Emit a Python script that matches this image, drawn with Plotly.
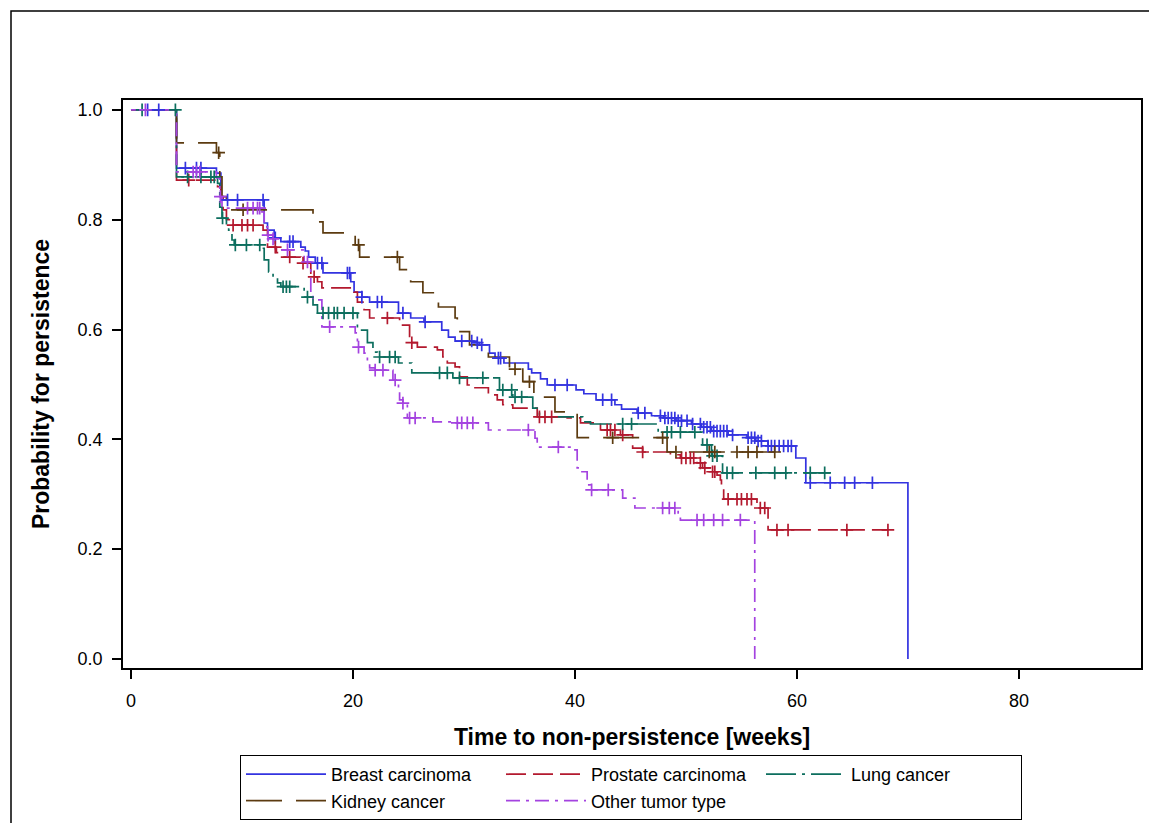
import numpy as np
import plotly.graph_objects as go

# ---------------- data ----------------
groups = ["Breast carcinoma", "Prostate carcinoma", "Lung cancer", "Kidney cancer", "Other tumor type"]

breast_t = [0, 4.1, 7.7, 8.1, 12.0, 12.3, 12.9, 13.5, 15.3, 15.7, 16.0, 16.6, 17.3, 19.8, 20.1, 20.8,
            21.5, 24.1, 25.2, 26.4, 28.0, 28.6, 29.2, 30.9, 31.4, 32.3, 32.8, 33.6, 35.8, 36.1, 36.9, 37.5,
            40.1, 40.8, 41.9, 43.6, 44.2, 45.6, 46.9, 48.0, 49.1, 50.5, 51.4, 52.3, 53.8, 55.5, 56.3, 57.4,
            59.9, 60.8, 70.0]
breast_s = [1.0, 0.894, 0.885, 0.836, 0.794, 0.781, 0.767, 0.760, 0.750, 0.743, 0.732, 0.721, 0.703, 0.687, 0.668, 0.659,
            0.650, 0.630, 0.621, 0.614, 0.599, 0.586, 0.579, 0.576, 0.572, 0.557, 0.548, 0.539, 0.528, 0.521, 0.510, 0.499,
            0.490, 0.483, 0.472, 0.463, 0.455, 0.448, 0.443, 0.439, 0.434, 0.428, 0.422, 0.415, 0.408, 0.403, 0.397, 0.388,
            0.366, 0.321, 0.0]
breast_cens = [1.5, 2.5, 4.9, 5.9, 6.3, 8.7, 9.6, 11.9, 13.0, 14.3, 14.6, 16.8, 17.2, 19.5, 19.7, 20.8, 22.2, 22.6,
               24.5, 26.5, 29.8, 30.7, 31.2, 31.6, 33.1, 33.3, 38.2, 39.3, 42.5, 43.3, 45.7, 46.3, 47.7, 48.1, 48.4,
               48.7, 49.0, 49.3, 49.6, 50.1, 50.6, 51.3, 51.6, 51.9, 52.2, 52.5, 52.8, 53.1, 53.4, 53.7, 54.2, 55.6,
               55.9, 56.2, 56.5, 56.8, 57.4, 57.7, 58.0, 58.4, 58.8, 59.2, 59.5, 61.2, 63.0, 64.3, 65.2, 66.8]

prostate_t = [0, 4.1, 7.8, 8.1, 8.3, 8.6, 9.1, 11.9, 12.3, 13.1, 13.4, 15.3, 16.2, 16.8, 17.2, 20.1, 20.4, 21.0,
              21.5, 24.2, 25.1, 25.8, 27.6, 28.1, 28.5, 29.2, 29.6, 30.3, 30.8, 32.2, 33.0, 33.5, 34.4, 36.6, 39.3,
              40.5, 42.3, 44.1, 45.2, 46.1, 48.6, 49.5, 51.0, 51.5, 52.2, 52.8, 53.1, 53.2, 53.4, 56.4, 57.4, 68.2]
prostate_s = [1.0, 0.872, 0.860, 0.842, 0.818, 0.800, 0.790, 0.781, 0.750, 0.740, 0.732, 0.721, 0.696, 0.687, 0.676,
              0.668, 0.650, 0.636, 0.621, 0.608, 0.576, 0.568, 0.563, 0.550, 0.539, 0.532, 0.514, 0.499, 0.494, 0.481,
              0.472, 0.463, 0.457, 0.441, 0.439, 0.430, 0.417, 0.408, 0.384, 0.377, 0.372, 0.366, 0.357, 0.348, 0.341,
              0.335, 0.326, 0.311, 0.291, 0.275, 0.235, 0.235]
prostate_cens = [5.2, 9.2, 10.0, 10.5, 11.0, 13.0, 14.3, 15.5, 16.5, 23.1, 25.3, 36.8, 37.3, 37.9, 42.9, 43.2, 43.6,
                 44.3, 46.1, 49.6, 50.0, 50.4, 50.7, 51.3, 51.7, 52.4, 52.6, 53.8, 54.6, 55.0, 55.5, 55.9, 56.7, 57.1,
                 58.2, 59.2, 64.5, 68.2]

lung_t = [0, 4.1, 7.8, 8.0, 8.2, 8.6, 8.8, 9.1, 9.3, 11.8, 12.0, 12.4, 12.8, 13.2, 13.5, 15.6, 16.4, 16.8, 20.4,
          21.3, 21.8, 22.2, 24.1, 25.3, 29.0, 33.2, 34.4, 36.2, 36.8, 40.7, 41.4, 47.5, 51.5, 52.3, 53.3, 63.0]
lung_s = [1.0, 0.878, 0.866, 0.823, 0.803, 0.790, 0.781, 0.763, 0.754, 0.748, 0.727, 0.705, 0.695, 0.685, 0.678,
          0.659, 0.645, 0.630, 0.599, 0.576, 0.559, 0.550, 0.539, 0.521, 0.512, 0.490, 0.477, 0.457, 0.441, 0.432,
          0.428, 0.413, 0.390, 0.370, 0.339, 0.339]
lung_cens = [1.0, 4.0, 5.1, 6.3, 7.2, 7.5, 8.25, 9.4, 10.4, 11.6, 13.7, 14.0, 14.3, 15.9, 17.3, 17.8, 18.3, 18.6,
             19.2, 20.0, 22.4, 23.3, 23.8, 27.8, 28.5, 29.6, 31.7, 33.5, 34.3, 34.6, 35.2, 44.3, 45.1, 48.3, 48.7,
             49.5, 50.8, 51.9, 52.4, 52.8, 53.7, 54.2, 56.3, 58.0, 59.0, 61.2, 62.5]

kidney_t = [0, 4.1, 7.7, 8.0, 8.2, 8.6, 16.4, 17.3, 20.2, 20.6, 24.2, 25.2, 26.3, 27.7, 29.2, 29.4, 30.5, 32.2,
            34.1, 35.3, 36.3, 38.2, 40.2, 48.3, 58.5]
kidney_s = [1.0, 0.940, 0.922, 0.878, 0.842, 0.818, 0.796, 0.776, 0.754, 0.732, 0.709, 0.687, 0.667, 0.641, 0.621,
            0.596, 0.572, 0.550, 0.528, 0.505, 0.477, 0.450, 0.403, 0.377, 0.377]
kidney_cens = [7.9, 10.1, 20.5, 24.0, 34.6, 35.9, 43.4, 47.9, 49.1, 52.1, 52.6, 54.6, 55.6, 56.4, 58.0]

other_t = [0, 4.1, 7.7, 8.0, 8.2, 11.8, 12.0, 12.3, 12.8, 13.0, 15.6, 16.2, 16.4, 17.2, 20.2, 20.4, 21.0, 21.3,
           21.5, 22.0, 23.6, 24.1, 24.2, 24.5, 24.9, 27.2, 29.4, 32.2, 36.4, 36.6, 39.8, 40.2, 40.5, 41.1, 41.4,
           44.3, 45.4, 49.3, 49.5, 56.2]
other_s = [1.0, 0.887, 0.876, 0.842, 0.821, 0.814, 0.787, 0.772, 0.765, 0.745, 0.723, 0.668, 0.654, 0.605, 0.594,
           0.568, 0.557, 0.539, 0.530, 0.526, 0.508, 0.490, 0.472, 0.466, 0.439, 0.432, 0.430, 0.417, 0.402, 0.386,
           0.381, 0.348, 0.341, 0.317, 0.308, 0.293, 0.275, 0.266, 0.253, 0.0]
other_cens = [1.3, 5.6, 5.9, 6.2, 8.05, 10.5, 11.0, 11.4, 11.6, 12.35, 12.8, 14.1, 15.9, 17.9, 20.5, 22.0, 22.7,
              23.8, 24.5, 25.1, 25.6, 29.4, 29.8, 30.3, 30.8, 35.8, 38.5, 41.5, 43.0, 47.9, 48.5, 49.0, 51.0, 51.6,
              52.5, 53.3, 54.9]

x_ticks = [0, 20, 40, 60, 80]
y_ticks = [0.0, 0.2, 0.4, 0.6, 0.8, 1.0]

# ---------------- styles ----------------
colors = ["#3333E0", "#B3192E", "#0C6E5E", "#5C3B10", "#A443E0"]
dashes = ["solid", "20px,7px", "30px,6px,3px,6px", "36px,14px", "14px,6px,3px,6px"]

series = [
    (breast_t, breast_s, breast_cens),
    (prostate_t, prostate_s, prostate_cens),
    (lung_t, lung_s, lung_cens),
    (kidney_t, kidney_s, kidney_cens),
    (other_t, other_s, other_cens),
]

FONT = "Arial, Liberation Sans, sans-serif"
fig = go.Figure()

for name, (t, s, _), c, d in zip(groups, series, colors, dashes):
    fig.add_trace(go.Scatter(x=t, y=s, mode="lines", name=name, line_shape="hv",
                             line=dict(color=c, width=1.7, dash=d), hoverinfo="skip"))

for name, (t, s, cens), c in zip(groups, series, colors):
    ta = np.asarray(t)
    sa = np.asarray(s)
    idx = np.searchsorted(ta, np.asarray(cens), side="right") - 1
    fig.add_trace(go.Scatter(x=cens, y=sa[idx], mode="markers", showlegend=False, name=name,
                             marker=dict(symbol="cross-thin", size=9, color=c,
                                         line=dict(width=1.7, color=c)), hoverinfo="skip"))

W, H = 1149, 823
L, R, T, B = 123, 8, 100, 155
pw, ph = W - L - R, H - T - B

fig.update_layout(
    width=W, height=H,
    margin=dict(l=L, r=R, t=T, b=B, pad=0, autoexpand=False),
    paper_bgcolor="white", plot_bgcolor="white",
    font=dict(family=FONT, color="black"),
    showlegend=True,
    legend=dict(orientation="h", x=(240 - L) / pw, y=1 - (755 - T) / ph, xanchor="left", yanchor="top",
                bordercolor="black", borderwidth=1, bgcolor="white",
                font=dict(size=18, family=FONT), itemwidth=80, entrywidth=165, entrywidthmode="pixels",
                tracegroupgap=0, traceorder="normal"),
    xaxis=dict(range=[-0.72, 91.0], tickvals=x_ticks, ticktext=[str(v) for v in x_ticks],
               showgrid=False, zeroline=False, showline=True, linecolor="black", linewidth=1.5,
               mirror=True, ticks="outside", ticklen=9, tickwidth=1.5, tickcolor="black",
               tickfont=dict(size=18, family=FONT), ticklabelstandoff=7,
               title=dict(text="<b>Time to non-persistence [weeks]</b>", font=dict(size=23, family=FONT),
                          standoff=19)),
    yaxis=dict(range=[-0.0164, 1.018], tickvals=y_ticks, ticktext=[f"{v:.1f}" for v in y_ticks],
               showgrid=False, zeroline=False, showline=True, linecolor="black", linewidth=1.5,
               mirror=True, ticks="outside", ticklen=9, tickwidth=1.5, tickcolor="black",
               tickfont=dict(size=18, family=FONT), ticklabelstandoff=6,
               title=dict(text="<b>Probability for persistence</b>", font=dict(size=23, family=FONT),
                          standoff=22)),
    shapes=[dict(type="rect", xref="paper", yref="paper",
                 x0=(11 - L) / pw, x1=(W + 20 - L) / pw, y0=1 - (H + 20 - T) / ph, y1=1 + (T - 11) / ph,
                 line=dict(color="black", width=1.5), fillcolor="rgba(0,0,0,0)", layer="below")],
)

fig.write_html("out.html")
